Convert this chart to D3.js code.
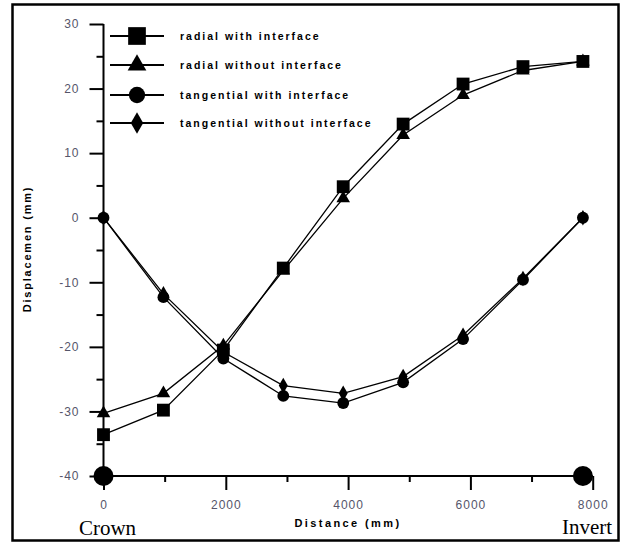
<!DOCTYPE html>
<html>
<head>
<meta charset="utf-8">
<script src="https://cdn.jsdelivr.net/npm/d3@7"></script>
<style>
  body { margin: 0; background: #fff; }
  svg { display: block; }
</style>
</head>
<body>
<svg id="chart" width="625" height="544"></svg>
<script>
// values
const distance = [0, 980, 1960, 2940, 3920, 4900, 5880, 6860, 7840];
const radialWith = [-33.6, -29.8, -20.5, -7.8, 4.8, 14.5, 20.7, 23.4, 24.2];
const radialWithout = [-30.3, -27.2, -19.8, -8.2, 3.0, 12.8, 19.0, 22.8, 24.2];
const tangentialWith = [0, -12.3, -21.8, -27.6, -28.7, -25.5, -18.8, -9.6, 0];
const tangentialWithout = [0, -11.8, -20.8, -26.0, -27.2, -24.6, -18.2, -9.4, 0];
const seriesNames = ["radial with interface", "radial without interface",
  "tangential with interface", "tangential without interface"];
const xTicks = [0, 2000, 4000, 6000, 8000];
const yTicks = [-40, -30, -20, -10, 0, 10, 20, 30];
const endPoints = [[0, -40, "Crown"], [7840, -40, "Invert"]];

const svg = d3.select("#chart");

// outer frame
svg.append("rect")
  .attr("x", 12.5).attr("y", 4.5)
  .attr("width", 606).attr("height", 536)
  .attr("fill", "none").attr("stroke", "#000").attr("stroke-width", 2.5);

const x = d3.scaleLinear().domain([0, 8000]).range([103.5, 592.7]);
const y = d3.scaleLinear().domain([-40, 30]).range([476, 24]);

const labelFont = "Arial, 'Liberation Sans', sans-serif";
const plain = d => String(d);   // "-40", "2000" as printed

// y axis
const yAxis = svg.append("g")
  .attr("transform", `translate(${x(0)},0)`)
  .call(d3.axisLeft(y).tickValues(yTicks).tickSize(14).tickPadding(10).tickFormat(plain));
svg.append("g")
  .attr("transform", `translate(${x(0)},0)`)
  .call(d3.axisLeft(y).tickValues(d3.range(-35, 30, 10)).tickSize(7).tickFormat(""))
  .call(g => g.select(".domain").remove());

// x axis
const xAxis = svg.append("g")
  .attr("transform", `translate(0,${y(-40)})`)
  .call(d3.axisBottom(x).tickValues(xTicks).tickSize(14).tickPadding(10).tickFormat(plain));
svg.append("g")
  .attr("transform", `translate(0,${y(-40)})`)
  .call(d3.axisBottom(x).tickValues([1000, 3000, 5000, 7000]).tickSize(6).tickFormat(""))
  .call(g => g.select(".domain").remove());

svg.selectAll(".domain").attr("stroke", "#000").attr("stroke-width", 2);
svg.selectAll(".tick line").attr("stroke", "#000").attr("stroke-width", 2);
svg.selectAll(".tick text")
  .attr("fill", "#55556a")
  .style("font-family", labelFont)
  .style("font-size", "12px")
  .style("letter-spacing", "1px");
// flat ends on the axes, no outer ticks
xAxis.select(".domain").attr("d", `M${x(0)},0H${x(8000)}`);
yAxis.select(".domain").attr("d", `M0,${y(-40)}V${y(30)}`);

// axis titles
svg.append("text")
  .attr("x", 348).attr("y", 527)
  .attr("text-anchor", "middle")
  .style("font-family", labelFont).style("font-size", "11px")
  .style("font-weight", "bold").style("letter-spacing", "2.4px")
  .text("Distance (mm)");
svg.append("text")
  .attr("transform", "translate(31,249) rotate(-90)")
  .attr("text-anchor", "middle")
  .style("font-family", labelFont).style("font-size", "11px")
  .style("font-weight", "bold").style("letter-spacing", "1.8px")
  .text("Displacemen (mm)");

// series
const series = [
  {name: seriesNames[0], values: radialWith, symbol: d3.symbolSquare, size: 165},
  {name: seriesNames[1], values: radialWithout, symbol: d3.symbolTriangle, size: 80},
  {name: seriesNames[2], values: tangentialWith, symbol: d3.symbolCircle, size: 110},
  {name: seriesNames[3], values: tangentialWithout, symbol: d3.symbolDiamond, size: 70}
];

const line = d3.line()
  .x((d, i) => x(distance[i]))
  .y(d => y(d));

svg.append("g")
  .selectAll("path")
  .data(series)
  .join("path")
  .attr("fill", "none")
  .attr("stroke", "#000")
  .attr("stroke-width", 1.3)
  .attr("d", d => line(d.values));

series.forEach(s => {
  svg.append("g")
    .selectAll("path")
    .data(s.values)
    .join("path")
    .attr("transform", (d, i) => `translate(${x(distance[i])},${y(d)})`)
    .attr("d", d3.symbol(s.symbol, s.size))
    .attr("fill", "#000");
});

// big end markers and their labels
svg.append("g")
  .selectAll("circle")
  .data(endPoints)
  .join("circle")
  .attr("cx", d => x(d[0]))
  .attr("cy", d => y(d[1]))
  .attr("r", 10)
  .attr("fill", "#000");

svg.append("text")
  .attr("x", x(0) + 4).attr("y", 535)
  .attr("text-anchor", "middle")
  .style("font-family", "'Liberation Serif', 'Times New Roman', serif")
  .style("font-size", "21px")
  .text(endPoints[0][2]);
svg.append("text")
  .attr("x", 562).attr("y", 534)
  .style("font-family", "'Liberation Serif', 'Times New Roman', serif")
  .style("font-size", "21px")
  .text(endPoints[1][2]);

// legend
const legend = svg.append("g")
  .selectAll("g")
  .data(series)
  .join("g")
  .attr("transform", (d, i) => `translate(110,${[36, 65, 95, 123][i]})`);
legend.append("line")
  .attr("x1", 0).attr("x2", 54)
  .attr("stroke", "#000").attr("stroke-width", 2);
legend.append("path")
  .attr("transform", "translate(27,0)")
  .attr("d", d => d3.symbol(d.symbol, d.size * 1.9)())
  .attr("fill", "#000");
legend.append("text")
  .attr("x", 70).attr("y", 4)
  .style("font-family", labelFont).style("font-size", "10.5px")
  .style("font-weight", "bold").style("letter-spacing", "2px")
  .text(d => d.name);
</script>
</body>
</html>
